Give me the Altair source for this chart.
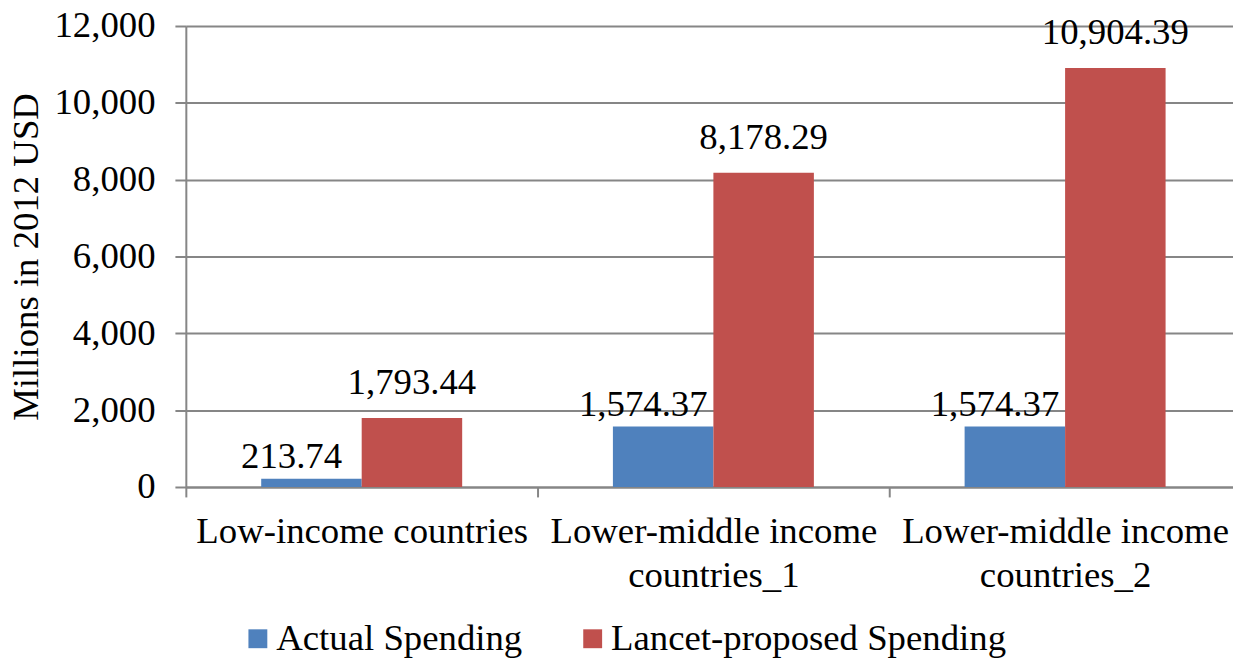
import altair as alt
import pandas as pd

categories = [
    "Low-income countries",
    "Lower-middle income countries_1",
    "Lower-middle income countries_2",
]
series = ["Actual Spending", "Lancet-proposed Spending"]
actual = [213.74, 1574.37, 1574.37]
lancet = [1793.44, 8178.29, 10904.39]
y_ticks = [0, 2000, 4000, 6000, 8000, 10000, 12000]
colors = ["#4F81BD", "#C0504D"]

rows = []
for c, a, l in zip(categories, actual, lancet):
    rows.append({"category": c, "series": series[0], "value": a})
    rows.append({"category": c, "series": series[1], "value": l})
df = pd.DataFrame(rows)

FONT = "Liberation Serif"
FS = 37
GRAY = "#868686"

label_expr = (
    "test(/ countries_/, datum.label) ? "
    "split(replace(datum.label, ' countries_', '|countries_'), '|') : datum.label"
)

x_enc = alt.X(
    "category:N",
    sort=categories,
    scale=alt.Scale(paddingInner=0, paddingOuter=0, range=[0, 1062]),
    axis=alt.Axis(
        title=None,
        labelAngle=0,
        labelExpr=label_expr,
        labelFont=FONT,
        labelFontSize=FS,
        labelColor="black",
        labelPadding=17,
        labelLineHeight=44,
        labelLimit=1000,
        labelOverlap=False,
        domainColor=GRAY,
        domainWidth=2,
        tickColor=GRAY,
        tickWidth=2,
        tickSize=10,
        tickBand="extent",
        grid=False,
    ),
)
xoff_enc = alt.XOffset(
    "series:N", sort=series, scale=alt.Scale(paddingInner=0, paddingOuter=0.75)
)
y_enc = alt.Y(
    "value:Q",
    scale=alt.Scale(domain=[0, 12000], nice=False),
    axis=alt.Axis(
        values=y_ticks,
        format=",d",
        title="Millions in 2012 USD",
        titleFont=FONT,
        titleFontSize=FS,
        titleFontWeight="normal",
        titleColor="black",
        titleAngle=270,
        titleX=-149,
        titleY=232,
        titleAlign="center",
        titleBaseline="alphabetic",
        labelFont=FONT,
        labelFontSize=FS,
        labelColor="black",
        labelPadding=20,
        grid=True,
        gridColor=GRAY,
        gridWidth=2,
        domainColor=GRAY,
        domainWidth=2,
        tickColor=GRAY,
        tickWidth=2,
        tickSize=11,
    ),
)

bars = alt.Chart(df).mark_bar().encode(
    x=x_enc,
    xOffset=xoff_enc,
    y=y_enc,
    color=alt.Color(
        "series:N",
        sort=series,
        scale=alt.Scale(domain=series, range=colors),
        legend=alt.Legend(
            title=None,
            orient="none",
            legendX=54,
            legendY=598,
            direction="horizontal",
            symbolType="square",
            symbolSize=361,
            symbolStrokeWidth=0,
            labelFont=FONT,
            labelFontSize=FS,
            labelColor="black",
            labelOffset=0,
            labelLimit=1000,
            columnPadding=52,
            padding=0,
        ),
    ),
)

text_actual = (
    alt.Chart(df)
    .transform_filter(alt.datum.series == series[0])
    .mark_text(font=FONT, fontSize=FS, color="black", baseline="alphabetic", dy=-11, dx=-20)
    .encode(
        x=alt.X("category:N", sort=categories),
        xOffset=alt.XOffset("series:N", sort=series),
        y="value:Q",
        text=alt.Text("value:Q", format=",.2f"),
    )
)
text_lancet = (
    alt.Chart(df)
    .transform_filter(alt.datum.series == series[1])
    .mark_text(font=FONT, fontSize=FS, color="black", baseline="alphabetic", dy=-24)
    .encode(
        x=alt.X("category:N", sort=categories),
        xOffset=alt.XOffset("series:N", sort=series),
        y="value:Q",
        text=alt.Text("value:Q", format=",.2f"),
    )
)

chart = (
    alt.layer(bars, text_actual, text_lancet)
    .properties(
        width=1054,
        height=464,
        padding={"left": 179, "top": 16, "right": 0, "bottom": 170},
        autosize=alt.AutoSizeParams(type="none"),
    )
    .configure_view(stroke=None)
    .configure(background="white")
)

chart.save("out.html", embed_options={"renderer": "svg", "actions": False})
